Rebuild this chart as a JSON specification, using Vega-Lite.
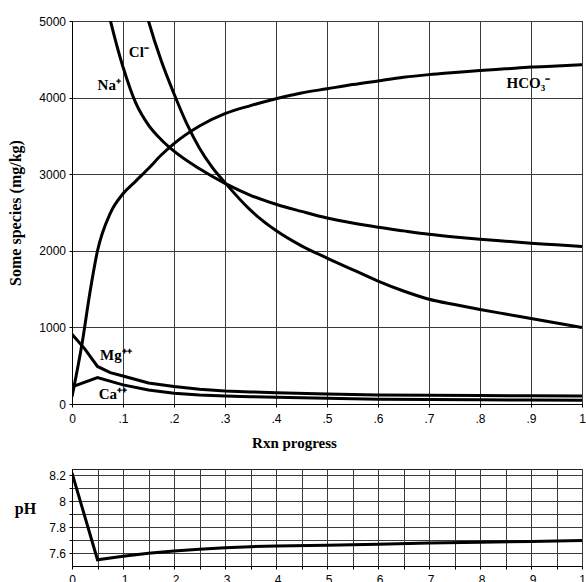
{
  "$schema": "https://vega.github.io/schema/vega-lite/v6.json",
  "background": "white",
  "padding": {"left": 6, "top": 14, "right": 0, "bottom": 0},
  "bounds": "flush",
  "spacing": 65,
  "config": {
    "view": {"stroke": "#222", "strokeWidth": 1},
    "axis": {
      "labelFont": "Liberation Sans", "labelFontSize": 12, "labelColor": "#000",
      "titleFont": "Liberation Serif", "titleFontWeight": "bold", "titleColor": "#000",
      "gridColor": "#3a3a3a", "gridOpacity": 1, "gridWidth": 1,
      "domainColor": "#000", "tickColor": "#000", "tickSize": 3, "labelPadding": 4
    }
  },
  "datasets": {
    "species": [
      {"species": "HCO3", "p": 0, "v": 95},
      {"species": "HCO3", "p": 0.02, "v": 800},
      {"species": "HCO3", "p": 0.035, "v": 1450},
      {"species": "HCO3", "p": 0.05, "v": 2000},
      {"species": "HCO3", "p": 0.075, "v": 2490},
      {"species": "HCO3", "p": 0.1, "v": 2745},
      {"species": "HCO3", "p": 0.125, "v": 2910},
      {"species": "HCO3", "p": 0.15, "v": 3075},
      {"species": "HCO3", "p": 0.175, "v": 3250},
      {"species": "HCO3", "p": 0.2, "v": 3400},
      {"species": "HCO3", "p": 0.25, "v": 3630},
      {"species": "HCO3", "p": 0.3, "v": 3790},
      {"species": "HCO3", "p": 0.35, "v": 3895},
      {"species": "HCO3", "p": 0.4, "v": 3985},
      {"species": "HCO3", "p": 0.45, "v": 4060},
      {"species": "HCO3", "p": 0.5, "v": 4115},
      {"species": "HCO3", "p": 0.55, "v": 4170},
      {"species": "HCO3", "p": 0.6, "v": 4218},
      {"species": "HCO3", "p": 0.65, "v": 4265},
      {"species": "HCO3", "p": 0.7, "v": 4300},
      {"species": "HCO3", "p": 0.75, "v": 4328},
      {"species": "HCO3", "p": 0.8, "v": 4355},
      {"species": "HCO3", "p": 0.85, "v": 4376},
      {"species": "HCO3", "p": 0.9, "v": 4398},
      {"species": "HCO3", "p": 0.95, "v": 4412},
      {"species": "HCO3", "p": 1, "v": 4428},
      {"species": "Na", "p": 0.05, "v": 5700},
      {"species": "Na", "p": 0.1, "v": 4400},
      {"species": "Na", "p": 0.125, "v": 3930},
      {"species": "Na", "p": 0.15, "v": 3640},
      {"species": "Na", "p": 0.175, "v": 3450},
      {"species": "Na", "p": 0.2, "v": 3300},
      {"species": "Na", "p": 0.25, "v": 3070},
      {"species": "Na", "p": 0.3, "v": 2880},
      {"species": "Na", "p": 0.35, "v": 2725},
      {"species": "Na", "p": 0.4, "v": 2608},
      {"species": "Na", "p": 0.45, "v": 2515},
      {"species": "Na", "p": 0.5, "v": 2428},
      {"species": "Na", "p": 0.55, "v": 2362},
      {"species": "Na", "p": 0.6, "v": 2307},
      {"species": "Na", "p": 0.65, "v": 2260},
      {"species": "Na", "p": 0.7, "v": 2216},
      {"species": "Na", "p": 0.75, "v": 2181},
      {"species": "Na", "p": 0.8, "v": 2151},
      {"species": "Na", "p": 0.85, "v": 2125},
      {"species": "Na", "p": 0.9, "v": 2100},
      {"species": "Na", "p": 0.95, "v": 2078},
      {"species": "Na", "p": 1, "v": 2055},
      {"species": "Cl", "p": 0.1, "v": 6400},
      {"species": "Cl", "p": 0.15, "v": 5000},
      {"species": "Cl", "p": 0.175, "v": 4480},
      {"species": "Cl", "p": 0.2, "v": 4050},
      {"species": "Cl", "p": 0.225, "v": 3660},
      {"species": "Cl", "p": 0.25, "v": 3340},
      {"species": "Cl", "p": 0.275, "v": 3090},
      {"species": "Cl", "p": 0.3, "v": 2890},
      {"species": "Cl", "p": 0.35, "v": 2530},
      {"species": "Cl", "p": 0.4, "v": 2265},
      {"species": "Cl", "p": 0.45, "v": 2065},
      {"species": "Cl", "p": 0.5, "v": 1905},
      {"species": "Cl", "p": 0.55, "v": 1755},
      {"species": "Cl", "p": 0.6, "v": 1605},
      {"species": "Cl", "p": 0.65, "v": 1475},
      {"species": "Cl", "p": 0.7, "v": 1368},
      {"species": "Cl", "p": 0.75, "v": 1298},
      {"species": "Cl", "p": 0.8, "v": 1234},
      {"species": "Cl", "p": 0.85, "v": 1175},
      {"species": "Cl", "p": 0.9, "v": 1117},
      {"species": "Cl", "p": 0.95, "v": 1057},
      {"species": "Cl", "p": 1, "v": 997},
      {"species": "Mg", "p": 0, "v": 910},
      {"species": "Mg", "p": 0.025, "v": 720},
      {"species": "Mg", "p": 0.05, "v": 490},
      {"species": "Mg", "p": 0.075, "v": 410},
      {"species": "Mg", "p": 0.1, "v": 365},
      {"species": "Mg", "p": 0.15, "v": 275},
      {"species": "Mg", "p": 0.2, "v": 228},
      {"species": "Mg", "p": 0.25, "v": 192},
      {"species": "Mg", "p": 0.3, "v": 170},
      {"species": "Mg", "p": 0.35, "v": 158},
      {"species": "Mg", "p": 0.4, "v": 148},
      {"species": "Mg", "p": 0.5, "v": 132},
      {"species": "Mg", "p": 0.6, "v": 118},
      {"species": "Mg", "p": 0.7, "v": 114},
      {"species": "Mg", "p": 0.8, "v": 110},
      {"species": "Mg", "p": 0.9, "v": 107},
      {"species": "Mg", "p": 1, "v": 105},
      {"species": "Ca", "p": 0, "v": 225},
      {"species": "Ca", "p": 0.05, "v": 345},
      {"species": "Ca", "p": 0.1, "v": 250},
      {"species": "Ca", "p": 0.15, "v": 183},
      {"species": "Ca", "p": 0.2, "v": 140},
      {"species": "Ca", "p": 0.25, "v": 117},
      {"species": "Ca", "p": 0.3, "v": 104},
      {"species": "Ca", "p": 0.35, "v": 95},
      {"species": "Ca", "p": 0.4, "v": 87},
      {"species": "Ca", "p": 0.5, "v": 74},
      {"species": "Ca", "p": 0.6, "v": 63},
      {"species": "Ca", "p": 0.7, "v": 58},
      {"species": "Ca", "p": 0.8, "v": 55},
      {"species": "Ca", "p": 0.9, "v": 52},
      {"species": "Ca", "p": 1, "v": 50}
    ],
    "labels": [
      {"label": "Cl⁻", "p": 0.131, "v": 4600},
      {"label": "Na⁺", "p": 0.073, "v": 4160},
      {"label": "HCO₃⁻", "p": 0.895, "v": 4190},
      {"label": "Mg⁺⁺", "p": 0.086, "v": 640},
      {"label": "Ca⁺⁺", "p": 0.08, "v": 137}
    ],
    "ph": [
      {"p": 0, "ph": 8.22},
      {"p": 0.05, "ph": 7.548},
      {"p": 0.1, "ph": 7.575},
      {"p": 0.15, "ph": 7.598},
      {"p": 0.2, "ph": 7.616},
      {"p": 0.25, "ph": 7.63},
      {"p": 0.3, "ph": 7.641},
      {"p": 0.35, "ph": 7.649},
      {"p": 0.4, "ph": 7.655},
      {"p": 0.5, "ph": 7.661},
      {"p": 0.6, "ph": 7.669},
      {"p": 0.7, "ph": 7.677},
      {"p": 0.8, "ph": 7.684},
      {"p": 0.9, "ph": 7.69},
      {"p": 1, "ph": 7.697}
    ]
  },
  "vconcat": [
    {
      "width": 510,
      "height": 383,
      "layer": [
        {
          "data": {"name": "species"},
          "transform": [{"filter": {"field": "species", "oneOf": ["HCO3", "Na", "Cl"]}}],
          "mark": {"type": "line", "color": "black", "strokeWidth": 3, "clip": true, "interpolate": "monotone"},
          "encoding": {
            "x": {
              "field": "p", "type": "quantitative",
              "scale": {"domain": [0, 1], "nice": false, "zero": false},
              "axis": {
                "values": [0, 0.05, 0.1, 0.15, 0.2, 0.25, 0.3, 0.35, 0.4, 0.45, 0.5, 0.55, 0.6, 0.65, 0.7, 0.75, 0.8, 0.85, 0.9, 0.95, 1],
                "labelExpr": "round(datum.value*20) % 2 == 1 ? '' : (datum.value == 0 ? '0' : (datum.value >= 0.999 ? '1' : '.' + round(datum.value*10)))",
                "labelPadding": 6,
                "labelFlush": false,
                "title": "Rxn progress",
                "titleFontSize": 15,
                "titleX": 222,
                "titleY": 43,
                "titleAlign": "center",
                "titleBaseline": "alphabetic"
              }
            },
            "y": {
              "field": "v", "type": "quantitative",
              "scale": {"domain": [0, 5000], "nice": false},
              "axis": {
                "values": [0, 500, 1000, 1500, 2000, 2500, 3000, 3500, 4000, 4500, 5000],
                "labelExpr": "datum.value % 1000 == 0 ? format(datum.value, 'd') : ''",
                "labelPadding": 3.5,
                "labelFlush": false,
                "title": "Some species (mg/kg)",
                "titleFontSize": 16,
                "titleAngle": -90,
                "titleX": -57,
                "titleY": 191.5,
                "titleAlign": "center",
                "titleBaseline": "middle"
              }
            },
            "detail": {"field": "species"}
          }
        },
        {
          "data": {"name": "species"},
          "transform": [{"filter": {"field": "species", "oneOf": ["Mg", "Ca"]}}],
          "mark": {"type": "line", "color": "black", "strokeWidth": 3, "clip": true},
          "encoding": {
            "x": {"field": "p", "type": "quantitative"},
            "y": {"field": "v", "type": "quantitative"},
            "detail": {"field": "species"}
          }
        },
        {
          "data": {"name": "labels"},
          "mark": {"type": "text", "font": "Liberation Serif", "fontWeight": "bold", "fontSize": 15, "color": "black", "align": "center", "baseline": "middle"},
          "encoding": {
            "x": {"field": "p", "type": "quantitative"},
            "y": {"field": "v", "type": "quantitative"},
            "text": {"field": "label"}
          }
        }
      ]
    },
    {
      "width": 510,
      "height": 97,
      "data": {"name": "ph"},
      "mark": {"type": "line", "color": "black", "strokeWidth": 3, "clip": true},
      "encoding": {
        "x": {
          "field": "p", "type": "quantitative",
          "scale": {"domain": [0, 1], "nice": false, "zero": false},
          "axis": {
            "values": [0, 0.05, 0.1, 0.15, 0.2, 0.25, 0.3, 0.35, 0.4, 0.45, 0.5, 0.55, 0.6, 0.65, 0.7, 0.75, 0.8, 0.85, 0.9, 0.95, 1],
            "labelExpr": "round(datum.value*20) % 2 == 1 ? '' : (datum.value == 0 ? '0' : (datum.value >= 0.999 ? '1' : '.' + round(datum.value*10)))",
            "labelPadding": 5,
            "labelFlush": false,
            "title": null
          }
        },
        "y": {
          "field": "ph", "type": "quantitative",
          "scale": {"domain": [7.5, 8.25], "nice": false, "zero": false},
          "axis": {
            "values": [7.6, 7.7, 7.8, 7.9, 8.0, 8.1, 8.2],
            "labelExpr": "round(datum.value*10) % 2 == 1 ? '' : format(datum.value, '.1~f')",
            "labelPadding": 3.5,
            "labelFlush": false,
            "title": "pH",
            "titleFontSize": 16,
            "titleAngle": 0,
            "titleX": -47,
            "titleY": 39,
            "titleAlign": "center",
            "titleBaseline": "middle"
          }
        }
      }
    }
  ]
}
